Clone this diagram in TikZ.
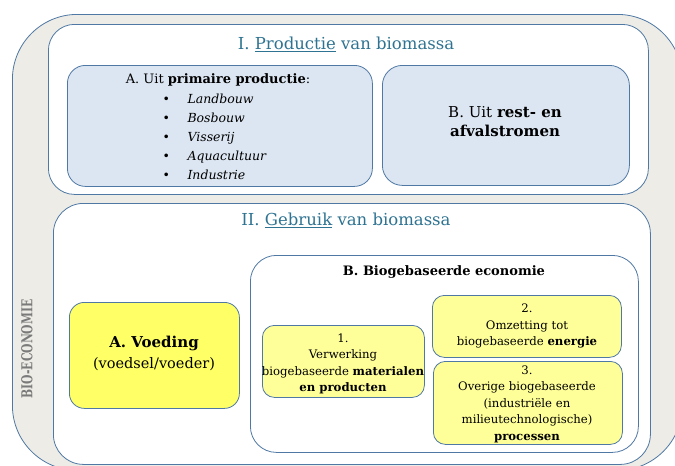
\documentclass[tikz,border=0pt]{standalone}
\usepackage{fontspec}
\setmainfont{DejaVu Serif}
\definecolor{edgec}{HTML}{4F78A4}
\definecolor{bggray}{HTML}{EDECE6}
\definecolor{bluefill}{HTML}{DCE6F2}
\definecolor{yelfill}{HTML}{FFFF66}
\definecolor{lyelfill}{HTML}{FFFF99}
\definecolor{headc}{HTML}{2E7391}
\definecolor{sidec}{HTML}{7A7A7A}
\begin{document}
\begin{tikzpicture}[x=1pt,y=-1pt,
  rbox/.style={draw=edgec, line width=0.8pt, anchor=north west, inner sep=0pt},
  head/.style={text=headc, font=\fontsize{16.5}{18}\selectfont},
  boxtext/.style={align=center, font=\fontsize{11.7}{16.5}\selectfont},
]
\useasboundingbox (0,0) rectangle (675,466);
\clip (0,0) rectangle (675,466);
% outer
\node[rbox, fill=bggray, rounded corners=65pt, minimum width=670pt, minimum height=456pt] (outer) at (12,14) {};
% I
\node[rbox, fill=white, rounded corners=26pt, minimum width=600pt, minimum height=170pt] (boxI) at (48,24) {};
\node[head] (tI) at (346,44) {I. \underline{Productie} van biomassa};
\node[rbox, fill=bluefill, rounded corners=18pt, minimum width=305pt, minimum height=121pt] (boxIA) at (67,65) {};
\node[font=\fontsize{13}{15}\selectfont] (tIA) at (218,80) {A. Uit \textbf{primaire productie}:};
\node[anchor=west, align=left, font=\fontsize{12.5}{19}\selectfont] (listIA) at (159,137)
  {\makebox[25pt][l]{\textbullet}\textit{Landbouw}\\
   \makebox[25pt][l]{\textbullet}\textit{Bosbouw}\\
   \makebox[25pt][l]{\textbullet}\textit{Visserij}\\
   \makebox[25pt][l]{\textbullet}\textit{Aquacultuur}\\
   \makebox[25pt][l]{\textbullet}\textit{Industrie}};
\node[rbox, fill=bluefill, rounded corners=20pt, minimum width=247pt, minimum height=120pt] (boxIB) at (382,65) {};
\node[align=center, font=\fontsize{15}{19}\selectfont] (tIB) at (505,122) {B. Uit \textbf{rest- en}\\\textbf{afvalstromen}};
% II
\node[rbox, fill=white, rounded corners=30pt, minimum width=597pt, minimum height=261pt] (boxII) at (53,203) {};
\node[head] (tII) at (346,220) {II. \underline{Gebruik} van biomassa};
\node[rbox, fill=yelfill, rounded corners=15pt, minimum width=170pt, minimum height=106pt] (boxA) at (69,302) {};
\node[align=center, font=\fontsize{14.5}{21}\selectfont] (tA) at (154,353) {\textbf{\fontsize{15}{21}\selectfont A. Voeding}\\(voedsel/voeder)};
\node[rbox, fill=white, rounded corners=26pt, minimum width=388pt, minimum height=197pt] (boxB) at (250,255) {};
\node[font=\bfseries\fontsize{13}{15}\selectfont] (tB) at (444,272) {B. Biogebaseerde economie};
\node[rbox, fill=lyelfill, rounded corners=12pt, minimum width=162pt, minimum height=72pt] (b1) at (262,325) {};
\node[boxtext] (t1) at (343,364) {1.\\Verwerking\\biogebaseerde \textbf{materialen}\\\textbf{en producten}};
\node[rbox, fill=lyelfill, rounded corners=12pt, minimum width=189pt, minimum height=62pt] (b2) at (432,295) {};
\node[boxtext] (t2) at (527,326) {2.\\Omzetting tot\\biogebaseerde \textbf{energie}};
\node[rbox, fill=lyelfill, rounded corners=12pt, minimum width=189pt, minimum height=83pt] (b3) at (433,361) {};
\node[boxtext] (t3) at (527,404) {3.\\Overige biogebaseerde\\(industriële en\\milieutechnologische)\\\textbf{processen}};
% side label
\node[rotate=90, text=sidec, font=\bfseries\fontsize{15}{17}\selectfont] (side) at (27,349) {\scalebox{0.72}[1]{BIO-ECONOMIE}};
\end{tikzpicture}
\end{document}
